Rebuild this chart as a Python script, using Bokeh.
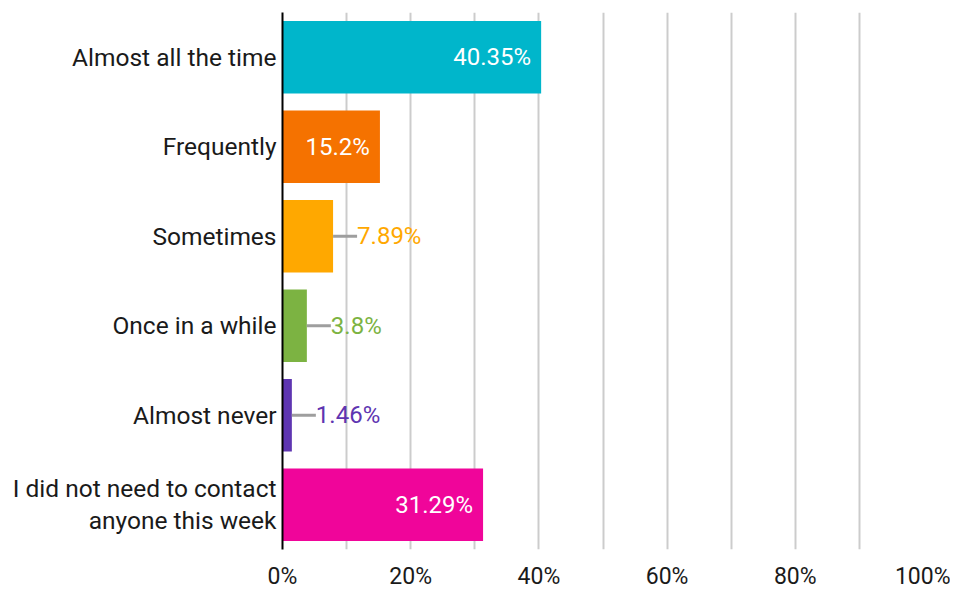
from bokeh.plotting import figure
from bokeh.models import FactorRange, ColumnDataSource, FixedTicker
from bokeh.embed import file_html
from bokeh.resources import INLINE
from bokeh.core.properties import value

categories = ["Almost all the time", "Frequently", "Sometimes", "Once in a while",
              "Almost never", "I did not need to contact\nanyone this week"]
values = [40.35, 15.2, 7.89, 3.8, 1.46, 31.29]
labels = ["40.35%", "15.2%", "7.89%", "3.8%", "1.46%", "31.29%"]
colors = ["#00B6CB", "#F57200", "#FFA800", "#7CB342", "#5E35B1", "#F0059A"]
x_ticks = [0, 20, 40, 60, 80, 100]
x_tick_labels = ["0%", "20%", "40%", "60%", "80%", "100%"]

FONT = "Roboto"

p = figure(width=950, height=592, output_backend="svg", toolbar_location=None,
           y_range=FactorRange(factors=list(reversed(categories)), range_padding=0),
           x_range=(0, 100))
p.min_border_left = 282
p.min_border_right = 27
p.min_border_top = 12
p.min_border_bottom = 40
p.outline_line_color = None

src = ColumnDataSource(dict(cat=categories, val=values, col=colors))
p.hbar(y="cat", right="val", left=0, height=0.81, color="col", source=src, line_color=None)

ins = ColumnDataSource(dict(cat=[c for c, v in zip(categories, values) if v > 10],
                            val=[v for v in values if v > 10],
                            lab=[l for l, v in zip(labels, values) if v > 10]))
outs = ColumnDataSource(dict(cat=[c for c, v in zip(categories, values) if v <= 10],
                             val=[v for v in values if v <= 10],
                             lab=[l for l, v in zip(labels, values) if v <= 10],
                             col=[c for c, v in zip(colors, values) if v <= 10]))
p.text(x="val", y="cat", text="lab", source=ins, x_offset=-10, text_align="right",
       text_baseline="middle", text_color="white", text_font=value(FONT),
       text_font_size="24px")
p.ray(x="val", y="cat", length=24, length_units="screen", angle=0, source=outs,
      line_color="#9E9E9E", line_width=3)
p.text(x="val", y="cat", text="lab", source=outs, x_offset=24, text_align="left",
       text_baseline="middle", text_color="col", text_font=value(FONT),
       text_font_size="24px")

p.xaxis.ticker = FixedTicker(ticks=x_ticks)
p.xaxis.major_label_overrides = {t: l for t, l in zip(x_ticks, x_tick_labels)}
p.xaxis.axis_line_color = None
p.xaxis.major_tick_line_color = None
p.xaxis.minor_tick_line_color = None
p.xaxis.major_label_text_font = FONT
p.xaxis.major_label_text_font_size = "23px"
p.xaxis.major_label_text_color = "#1A1A1A"
p.xaxis.major_label_standoff = 7

p.yaxis.axis_line_color = "black"
p.yaxis.axis_line_width = 2
p.yaxis.major_tick_line_color = None
p.yaxis.minor_tick_line_color = None
p.yaxis.major_label_text_font = FONT
p.yaxis.major_label_text_font_size = "24.5px"
p.yaxis.major_label_text_color = "#1A1A1A"
p.yaxis.major_label_text_line_height = 1.1
p.yaxis.major_label_standoff = 0

p.xgrid.ticker = FixedTicker(ticks=list(range(10, 101, 10)))
p.xgrid.grid_line_color = "#CCCCCC"
p.xgrid.grid_line_width = 2
p.ygrid.grid_line_color = None

open("out.html", "w").write(file_html(p, INLINE))
